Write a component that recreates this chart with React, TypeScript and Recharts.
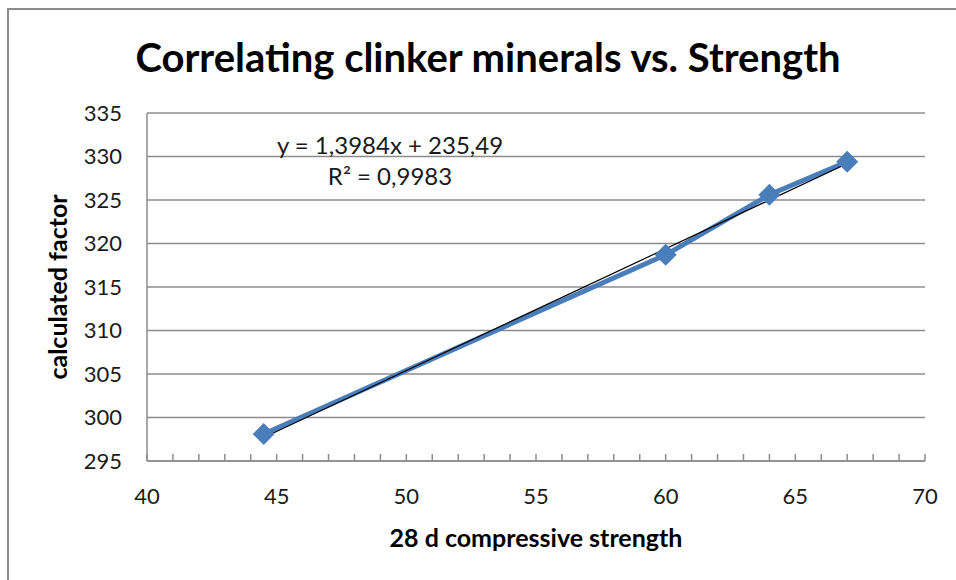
import { ComposedChart, Line, XAxis, YAxis, CartesianGrid } from "recharts";

document.body.style.margin = "0";

// measured points (28 d strength vs calculated factor)
const strength = [44.5, 60, 64, 67];
const factor = [298.1, 318.7, 325.6, 329.4];

// linear trendline endpoints
const trendStrength = [44.5, 67];
const trendFactor = [297.7, 329.2];

const xTicks = [40, 41, 42, 43, 44, 45, 46, 47, 48, 49, 50, 51, 52, 53, 54, 55, 56, 57, 58, 59, 60, 61, 62, 63, 64, 65, 66, 67, 68, 69, 70];
const yTicks = [295, 300, 305, 310, 315, 320, 325, 330, 335];

const points = strength.map((x, i) => ({ x, y: factor[i] }));
const trend = trendStrength.map((x, i) => ({ x, y: trendFactor[i] }));

const FONT = "Lato, 'Open Sans', sans-serif";
const AXIS = "#8c8c8c";
const BLUE = "#4a7ebb";

const Diamond = (props: any) => {
    const { cx, cy, index } = props;
    if (cx == null || cy == null) return null;
    const r = 11;
    return <polygon key={index} points={`${cx},${cy - r} ${cx + r},${cy} ${cx},${cy + r} ${cx - r},${cy}`} fill={BLUE} />;
};

export default function App() {
    return (
        <div style={{ position: "relative", width: 956, height: 580, fontFamily: FONT, background: "#fff" }}>
            <div style={{ position: "absolute", left: 7, top: 8, width: 949, height: 572, boxSizing: "border-box", borderTop: `2px solid ${AXIS}`, borderLeft: `2px solid ${AXIS}` }} />
            <div style={{ position: "absolute", left: 88, top: 32, width: 800, textAlign: "center", fontSize: 40, fontWeight: 700, color: "#000", lineHeight: "50px" }}>
                Correlating clinker minerals vs. Strength
            </div>
            <ComposedChart width={956} height={580} margin={{ top: 113, right: 31, bottom: 89, left: 0 }} style={{ position: "absolute", left: 0, top: 0 }}>
                <CartesianGrid vertical={false} stroke={AXIS} strokeWidth={1.5} />
                <XAxis
                    type="number"
                    dataKey="x"
                    domain={[40, 70]}
                    ticks={xTicks}
                    interval={0}
                    allowDataOverflow
                    tickFormatter={(v: number) => (v % 5 === 0 ? String(v) : "")}
                    tickSize={-7}
                    tickMargin={34}
                    tickLine={{ stroke: AXIS, strokeWidth: 1.5 }}
                    axisLine={{ stroke: AXIS, strokeWidth: 1.5 }}
                    tick={{ fill: "#1a1a1a", fontSize: 22, fontFamily: FONT }}
                />
                <YAxis
                    type="number"
                    domain={[295, 335]}
                    ticks={yTicks}
                    interval={0}
                    width={147}
                    tickSize={0}
                    tickMargin={25}
                    tickLine={false}
                    axisLine={{ stroke: AXIS, strokeWidth: 1.5 }}
                    tick={{ fill: "#1a1a1a", fontSize: 22, fontFamily: FONT }}
                />
                <Line data={points} dataKey="y" type="linear" stroke={BLUE} strokeWidth={5} dot={<Diamond />} activeDot={false} isAnimationActive={false} />
                <Line data={trend} dataKey="y" type="linear" stroke="#000" strokeWidth={1.2} dot={false} activeDot={false} isAnimationActive={false} />
            </ComposedChart>
            <div style={{ position: "absolute", left: 240, top: 131, width: 300, textAlign: "center", fontSize: 24, color: "#1a1a1a", lineHeight: "28px" }}>
                y = 1,3984x + 235,49
            </div>
            <div style={{ position: "absolute", left: 240, top: 162, width: 300, textAlign: "center", fontSize: 24, color: "#1a1a1a", lineHeight: "28px" }}>
                R² = 0,9983
            </div>
            <div style={{ position: "absolute", left: 386, top: 522, width: 300, textAlign: "center", fontSize: 25, fontWeight: 700, color: "#000", lineHeight: "30px" }}>
                28 d compressive strength
            </div>
            <div style={{ position: "absolute", left: 57 - 150, top: 287 - 15, width: 300, height: 30, textAlign: "center", fontSize: 25, fontWeight: 700, color: "#000", lineHeight: "30px", transform: "rotate(-90deg)" }}>
                calculated factor
            </div>
        </div>
    );
}
